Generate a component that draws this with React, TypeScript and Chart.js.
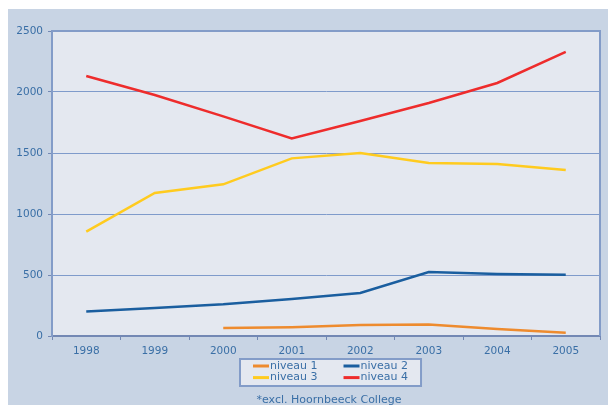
import React, { useEffect, useRef } from "react";
import { Chart, registerables } from "chart.js";

Chart.register(...registerables);

const years = ["1998", "1999", "2000", "2001", "2002", "2003", "2004", "2005"];
const niveau1 = [null, null, 65, 72, 90, 95, 57, 27];
const niveau2 = [200, 230, 260, 303, 352, 524, 508, 502];
const niveau3 = [855, 1172, 1243, 1456, 1500, 1418, 1410, 1361];
const niveau4 = [2131, 1975, 1800, 1620, 1762, 1910, 2074, 2328];
const seriesLabels = ["niveau 1", "niveau 2", "niveau 3", "niveau 4"];
const seriesColors = ["#EE8B2E", "#1A5E9F", "#FFCB1F", "#EE2C2C"];
const yMin = 0;
const yMax = 2500;
const yStep = 500;
const footnote = "*excl. Hoornbeeck College";

const OUTER = "#C8D4E4";
const INNER = "#E4E8F0";
const GRID = "#7F9BCB";
const AXIS = "#7388B4";
const FRAME = "#839CC8";
const TEXT = "#3A6FA6";
const FONT = "DejaVu Sans";

export default function App() {
  const ref = useRef<HTMLCanvasElement>(null);

  useEffect(() => {
    const canvas = ref.current;
    if (!canvas) return;

    const decor = {
      id: "decor",
      beforeDraw(chart: any) {
        const { ctx, chartArea: a, width, height } = chart;
        ctx.save();
        ctx.fillStyle = OUTER;
        ctx.fillRect(0, 0, width, height);
        ctx.fillStyle = INNER;
        ctx.fillRect(a.left, a.top, a.right - a.left, a.bottom - a.top);
        ctx.restore();
      },
      afterDraw(chart: any) {
        const { ctx, chartArea: a } = chart;
        ctx.save();
        // frame top / right
        ctx.strokeStyle = FRAME;
        ctx.lineWidth = 2;
        ctx.beginPath();
        ctx.moveTo(a.left, a.top);
        ctx.lineTo(a.right, a.top);
        ctx.lineTo(a.right, a.bottom);
        ctx.stroke();

        // legend (2 columns)
        const ds = chart.data.datasets;
        ctx.font = `11px "${FONT}"`;
        const w = ds.map((d: any) => ctx.measureText(d.label).width);
        const pad = 13;
        const sw = 16;
        const gap = 26;
        const col1 = Math.max(w[0], w[2]);
        const col2 = Math.max(w[1], w[3]);
        const boxW = pad + sw + 1 + col1 + gap + sw + 1 + col2 + pad;
        const boxH = 27;
        const cx = (a.left + a.right) / 2 + 5;
        const boxX = Math.round(cx - boxW / 2);
        const boxY = a.bottom + 23;
        ctx.fillStyle = INNER;
        ctx.fillRect(boxX, boxY, boxW, boxH);
        ctx.strokeStyle = FRAME;
        ctx.lineWidth = 2;
        ctx.strokeRect(boxX, boxY, boxW, boxH);
        ctx.textBaseline = "middle";
        ctx.textAlign = "left";
        ds.forEach((d: any, i: number) => {
          const col = i % 2;
          const row = Math.floor(i / 2);
          const x = boxX + pad + (col === 1 ? sw + 1 + col1 + gap : 0);
          const y = boxY + 7 + row * 11.6;
          ctx.strokeStyle = d.borderColor;
          ctx.lineWidth = 3;
          ctx.beginPath();
          ctx.moveTo(x, y);
          ctx.lineTo(x + sw, y);
          ctx.stroke();
          ctx.fillStyle = TEXT;
          ctx.fillText(d.label, x + sw + 1, y);
        });

        // footnote
        ctx.textAlign = "center";
        ctx.fillStyle = TEXT;
        ctx.fillText(footnote, (a.left + a.right) / 2 + 3, a.bottom + 64);
        ctx.restore();
      },
    };

    const seriesData = [niveau1, niveau2, niveau3, niveau4];

    const chart = new Chart(canvas, {
      type: "line",
      data: {
        labels: years,
        datasets: seriesData.map((data, i) => ({
          label: seriesLabels[i],
          data,
          borderColor: seriesColors[i],
          backgroundColor: seriesColors[i],
          borderWidth: 2.5,
          pointRadius: 0,
          tension: 0,
          fill: false,
          spanGaps: false,
        })),
      },
      options: {
        responsive: false,
        animation: false,
        layout: { padding: { left: 0, top: 22, right: 8, bottom: 39 } },
        plugins: {
          legend: { display: false },
          tooltip: { enabled: false },
        },
        scales: {
          x: {
            type: "category",
            offset: true,
            afterFit: (s: any) => {
              s.height = 30;
            },
            grid: {
              display: true,
              drawOnChartArea: false,
              offset: true,
              tickLength: 4,
              tickColor: AXIS,
              tickWidth: 1,
            },
            border: { display: true, color: AXIS, width: 2 },
            ticks: {
              color: TEXT,
              font: { family: FONT, size: 10.5 },
              padding: 5,
              maxRotation: 0,
            },
          },
          y: {
            min: yMin,
            max: yMax,
            afterFit: (s: any) => {
              s.width = 44;
            },
            grid: {
              color: GRID,
              lineWidth: 1,
              tickLength: 4,
              tickColor: AXIS,
            },
            border: { display: true, color: FRAME, width: 2 },
            ticks: {
              stepSize: yStep,
              color: TEXT,
              font: { family: FONT, size: 10.5 },
              padding: 5,
              callback: (v: any) => String(v),
            },
          },
        },
      },
      plugins: [decor],
    });

    return () => chart.destroy();
  }, []);

  return (
    <div style={{ position: "absolute", left: 8, top: 9, width: 600, height: 396 }}>
      <canvas ref={ref} width={600} height={396} style={{ display: "block" }} />
    </div>
  );
}
